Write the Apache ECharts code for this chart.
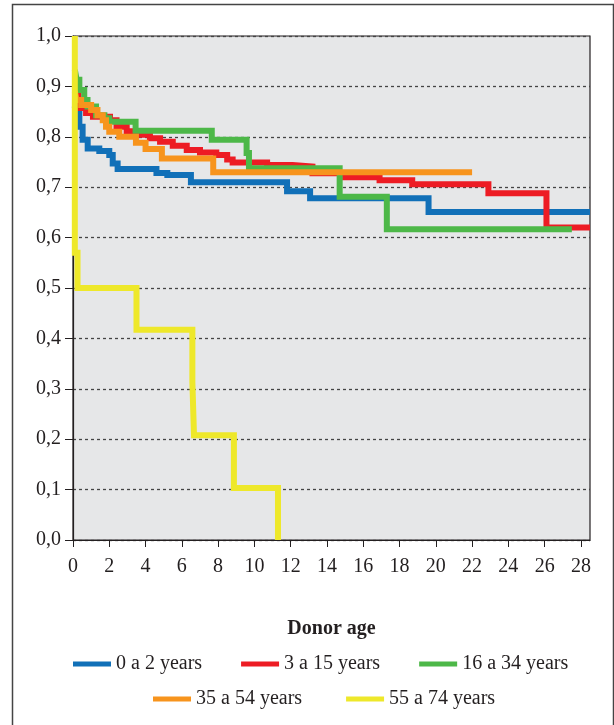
<!DOCTYPE html>
<html>
<head>
<meta charset="utf-8">
<script src="https://cdn.jsdelivr.net/npm/echarts@6/dist/echarts.min.js"></script>
<style>
  html, body { margin: 0; padding: 0; background: #fff; }
  #chart { width: 614px; height: 725px; }
</style>
</head>
<body>
<div id="chart"></div>
<script>
// groups (donor age)
var groupNames = ['0 a 2 years', '3 a 15 years', '16 a 34 years', '35 a 54 years', '55 a 74 years'];
var groupColors = ['#1170b8', '#ed1c24', '#4db848', '#f7941d', '#eee82a'];

// survival curves, time (years) and survival after each step
var blueT = [0.1, 0.12, 0.35, 0.53, 0.81, 1.45, 2.0, 2.19, 2.46, 4.6, 5.2, 6.5, 11.8, 13.07, 19.6, 28.5];
var blueV = [0.86, 0.853, 0.82, 0.794, 0.777, 0.772, 0.764, 0.747, 0.736, 0.728, 0.724, 0.71, 0.692, 0.678, 0.651, 0.651];

var redT = [0.1, 0.3, 0.72, 1.1, 2.04, 2.4, 2.96, 3.7, 4.24, 4.8, 5.5, 6.27, 7.0, 7.9, 8.5, 8.8, 10.7, 12.1, 13.2, 15.0, 16.9, 18.7, 22.9, 26.1, 28.5];
var redV = [0.9, 0.857, 0.847, 0.84, 0.833, 0.82, 0.811, 0.804, 0.797, 0.79, 0.782, 0.774, 0.769, 0.764, 0.755, 0.749, 0.744, 0.741, 0.7275, 0.7195, 0.714, 0.706, 0.688, 0.62, 0.62];

var greenT = [0.1, 0.2, 0.35, 0.62, 0.8, 1.27, 1.73, 2.0, 3.45, 7.65, 9.57, 9.7, 14.7, 17.3, 27.5];
var greenV = [0.933, 0.913, 0.893, 0.873, 0.86, 0.843, 0.837, 0.83, 0.812, 0.794, 0.768, 0.7375, 0.681, 0.6165, 0.6165];

var orangeT = [0.1, 0.2, 0.45, 1.0, 1.35, 1.64, 1.82, 2.0, 2.55, 3.47, 4.0, 4.9, 7.73, 22.0];
var orangeV = [0.89, 0.873, 0.863, 0.853, 0.843, 0.833, 0.82, 0.81, 0.80, 0.788, 0.776, 0.757, 0.7295, 0.7295];

var yellowT = [0.1, 0.1, 0.25, 3.5, 6.58, 6.67, 8.87, 11.3];
var yellowV = [1.0, 0.57, 0.5, 0.417, 0.314, 0.208, 0.103, 0.0];

var xTicks = [0, 2, 4, 6, 8, 10, 12, 14, 16, 18, 20, 22, 24, 26, 28];

function pairs(t, v) {
  return t.map(function (x, i) { return [x, v[i]]; });
}
var curves = [pairs(blueT, blueV), pairs(redT, redV), pairs(greenT, greenV), pairs(orangeT, orangeV), pairs(yellowT, yellowV)];

var serif = '"Liberation Serif", "DejaVu Serif", serif';
var chart = echarts.init(document.getElementById('chart'));

var option = {
  animation: false,
  backgroundColor: '#fff',
  graphic: [{
    type: 'rect',
    shape: { x: 12.5, y: 4.5, width: 601, height: 760 },
    style: { fill: 'none', stroke: '#444', lineWidth: 1.5 },
    silent: true
  }],
  grid: {
    left: 73, top: 36, right: 24, bottom: 185,
    show: true,
    backgroundColor: '#e6e7e8',
    borderColor: '#231f20',
    borderWidth: 1.2
  },
  legend: [{
    data: groupNames.slice(0, 3),
    left: 73, top: 654, padding: 0,
    icon: 'rect', itemWidth: 38, itemHeight: 5, itemGap: 39,
    textStyle: { fontFamily: serif, fontSize: 20, color: '#231f20' }
  }, {
    data: groupNames.slice(3),
    left: 153, top: 689, padding: 0,
    icon: 'rect', itemWidth: 38, itemHeight: 5, itemGap: 44,
    textStyle: { fontFamily: serif, fontSize: 20, color: '#231f20' }
  }],
  xAxis: {
    type: 'value',
    min: 0, max: 28.5,
    name: 'Donor age',
    nameLocation: 'middle',
    nameGap: 79,
    nameTextStyle: { fontFamily: serif, fontSize: 20, fontWeight: 'bold', color: '#231f20' },
    axisLine: { show: true, lineStyle: { color: '#231f20', width: 1.2 } },
    axisTick: { show: true, length: 7, customValues: xTicks, lineStyle: { color: '#231f20' } },
    axisLabel: { customValues: xTicks, margin: 17, fontFamily: serif, fontSize: 20, color: '#231f20' },
    splitLine: { show: false }
  },
  yAxis: {
    type: 'value',
    min: 0, max: 1, interval: 0.1,
    axisLine: { show: true, lineStyle: { color: '#231f20', width: 1.2 } },
    axisTick: { show: true, length: 8, lineStyle: { color: '#231f20' } },
    axisLabel: {
      margin: 12, fontFamily: serif, fontSize: 20, color: '#231f20',
      formatter: function (v) { return v.toFixed(1).replace('.', ','); }
    },
    splitLine: { show: true, lineStyle: { color: '#444', width: 1.3, type: [3, 3] } }
  },
  series: curves.map(function (d, i) {
    return {
      name: groupNames[i],
      type: 'line',
      step: 'end',
      showSymbol: false,
      data: d,
      color: groupColors[i],
      lineStyle: { width: 6, color: groupColors[i], cap: 'butt', join: 'miter' }
    };
  })
};
chart.setOption(option);
</script>
</body>
</html>
